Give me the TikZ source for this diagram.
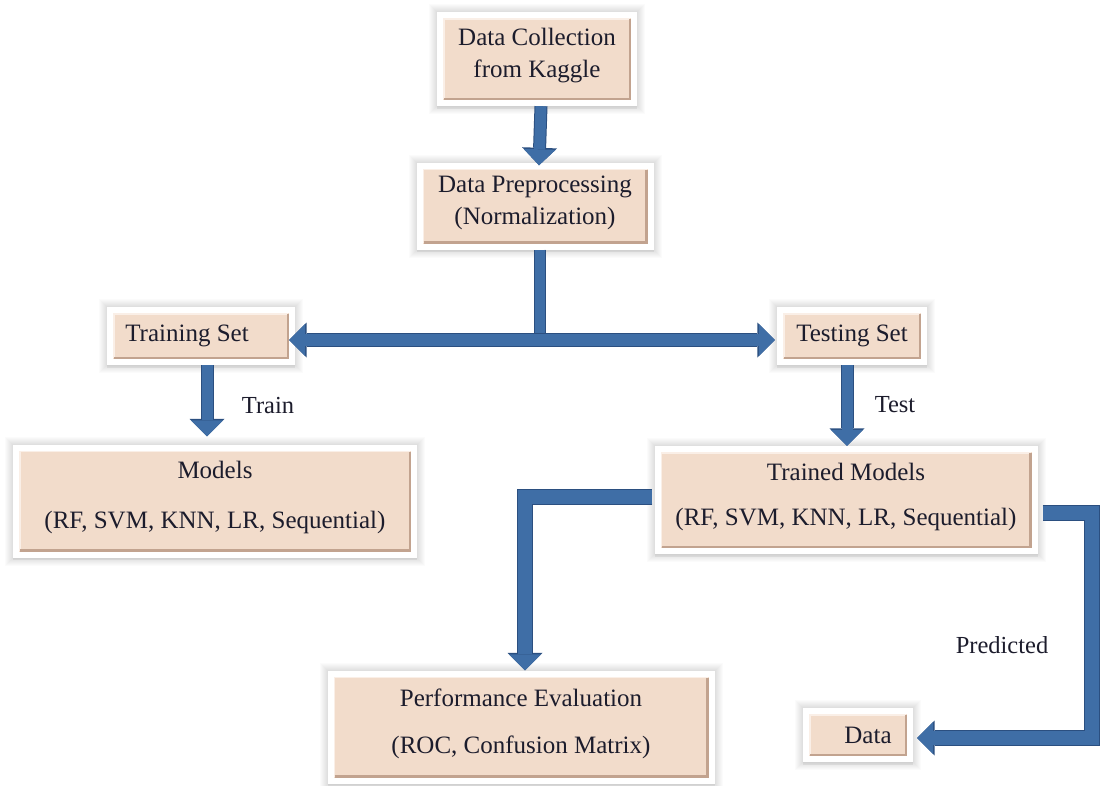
\documentclass[tikz,border=0pt]{standalone}
\usepackage{fontspec}
\setmainfont{Liberation Serif}
\usetikzlibrary{arrows.meta,shadows}
\definecolor{peach}{HTML}{F2DCCB}
\definecolor{bevd}{HTML}{C2A38F}
\definecolor{bevl}{HTML}{FAEFE7}
\definecolor{arrb}{HTML}{3F6EA6}
\definecolor{arrd}{HTML}{2B4F80}
\definecolor{txt}{HTML}{1C1C2C}
\newcommand\dn{\rule[-12pt]{0pt}{0pt}}
\begin{document}
\begin{tikzpicture}[x=1pt,y=-1pt,
  big/.tip={Triangle[length=16pt,width=32pt,line width=0pt]},
  bigo/.tip={Triangle[length=17.5pt,width=35pt,line width=0pt]},
  glow/.style={preaction={draw=black, draw opacity=0.014, line width=#1}},
  box/.style={rectangle, fill=white, inner sep=0pt, text=txt, align=center,
    font=\fontsize{25}{32}\selectfont,
    glow=16pt, glow=14pt, glow=12pt, glow=10pt, glow=8pt, glow=6pt, glow=4pt, glow=2pt,
    drop shadow={shadow xshift=0pt, shadow yshift=-2.5pt, opacity=0.06, fill=black},
    path picture={
      \fill[peach] ([shift={(6pt,6pt)}]path picture bounding box.south west)
        rectangle ([shift={(-6pt,-6pt)}]path picture bounding box.north east);
      \draw[bevl, line width=1.6pt] ([shift={(7pt,7pt)}]path picture bounding box.south west)
        -- ([shift={(7pt,-7pt)}]path picture bounding box.north west)
        -- ([shift={(-7pt,-7pt)}]path picture bounding box.north east);
      \draw[bevd, line width=2.2pt] ([shift={(7pt,7pt)}]path picture bounding box.south west)
        -- ([shift={(-7pt,7pt)}]path picture bounding box.south east)
        -- ([shift={(-7pt,-7pt)}]path picture bounding box.north east);
    }},
  flow/.style={draw=arrb, line width=11pt, line join=miter, -big,
    preaction={draw=arrd, line width=13pt, line join=miter, -bigo}},
  flowb/.style={draw=arrb, line width=14pt, line join=miter, -big,
    preaction={draw=arrd, line width=16pt, line join=miter, -bigo}},
  flowtwo/.style={draw=arrb, line width=12pt, big-big,
    preaction={draw=arrd, line width=14pt, bigo-bigo}},
  flowline/.style={draw=arrb, line width=10pt,
    preaction={draw=arrd, line width=12pt}},
  lbl/.style={text=txt, font=\fontsize{24.5}{28}\selectfont}
]
\fill[white] (0,0) rectangle (1102,785);
\useasboundingbox (0,0) rectangle (1102,785);

% boxes
\node[box, minimum width=200pt, minimum height=94pt] (collect) at (537,59) {Data Collection\\from Kaggle\dn};
\node[box, minimum width=237pt, minimum height=87pt] (prep) at (535,206) {Data Preprocessing\\(Normalization)\dn};
\node[box, minimum width=188pt, minimum height=58pt] (train) at (201,336) {Training Set\hspace*{28pt}};
\node[box, minimum width=150pt, minimum height=58pt] (test) at (852,336) {Testing Set};
\node[box, minimum width=404pt, minimum height=113pt, font=\fontsize{25}{50}\selectfont] (models) at (215,501) {Models\\(RF, SVM, KNN, LR, Sequential)\dn};
\node[box, minimum width=383pt, minimum height=108pt, font=\fontsize{25}{45}\selectfont] (trained) at (846,500) {Trained Models\\(RF, SVM, KNN, LR, Sequential)\dn};
\node[box, minimum width=387pt, minimum height=113pt, font=\fontsize{25}{47}\selectfont] (perf) at (521,727) {Performance Evaluation\\(ROC, Confusion Matrix)\dn};
\node[box, minimum width=110pt, minimum height=54pt] (data) at (858,735) {\hspace*{20pt}Data};

% labels
\node[lbl] (ltrain) at (268,405) {Train};
\node[lbl] (ltest) at (895,405) {Test};
\node[lbl] (lpred) at (1002,645) {Predicted};

% connectors
\draw[flow] ([xshift=4pt]collect.south) -- ([xshift=4pt,yshift=-3pt]prep.north);
\coordinate (hy) at (540,340);
\draw[flowline] ([xshift=5pt]prep.south) -- (hy);
\draw[flowtwo] ([xshift=-6pt]hy -| train.east) -- ([xshift=-2pt]hy -| test.west);
\draw[flow] ([xshift=6pt]train.south) -- ([xshift=6pt,yshift=8pt]train.south |- models.north);
\draw[flow] ([xshift=-5pt]test.south) -- ([xshift=-5pt]test.south |- trained.north);
\coordinate (lb) at (525,497);
\draw[flowb] ([xshift=-2pt]lb -| trained.west) -- (lb) -- (lb |- perf.north);
\coordinate (rt) at (1092,513);
\coordinate (rb) at (1092,738);
\draw[flowb] ([xshift=5pt]rt -| trained.east) -- (rt) -- (rb) -- ([xshift=4pt]rb -| data.east);
\end{tikzpicture}
\end{document}
